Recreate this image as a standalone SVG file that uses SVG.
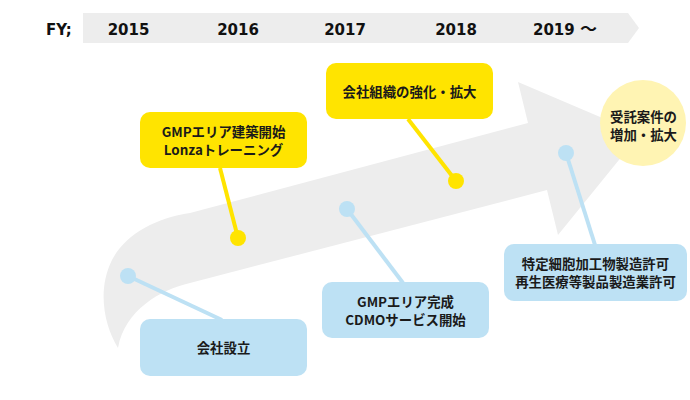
<svg xmlns="http://www.w3.org/2000/svg" width="690" height="400" viewBox="0 0 690 400">
<style>
.yr{font-family:"DejaVu Sans","Liberation Sans",sans-serif;font-weight:bold;font-size:15px;fill:#111;}
.tl{font-family:"Noto Sans CJK JP",sans-serif;font-weight:bold;}
.t{font-family:"Noto Sans CJK JP","DejaVu Sans",sans-serif;font-weight:bold;font-size:13.4px;fill:#1a1a1a;text-anchor:middle;}
.yb{fill:#FFE400;}
.bb{fill:#BDE1F4;}
.yl{stroke:#FFE400;stroke-width:4;fill:none;}
.bl{stroke:#BDE1F4;stroke-width:4;fill:none;}
</style>
<rect width="690" height="400" fill="#fff"/>
<g id="timeline">
<path d="M83 13 L628 13 L639 28 L628 43 L83 43 Z" fill="#EDEDED"/>
<text class="yr" x="46" y="35">FY;</text>
<text class="yr" x="128.5" y="35" text-anchor="middle">2015</text>
<text class="yr" x="238" y="35" text-anchor="middle">2016</text>
<text class="yr" x="345" y="35" text-anchor="middle">2017</text>
<text class="yr" x="456" y="35" text-anchor="middle">2018</text>
<text class="yr" x="533" y="35">2019 <tspan class="tl" font-size="17px">～</tspan></text>
</g>
<g id="arrow">
<path d="M118 348 C104 325 97 290 112 260 C125 235 155 218 190 213 L528 123 L518 82 L640 134 L558 235 L547 190 L190 283 C160 290 125 310 118 348 Z" fill="#EDEDED"/>
</g>
<g id="connectors">
<line class="yl" x1="220" y1="168" x2="238" y2="238"/>
<circle class="yb" cx="238" cy="238" r="8"/>
<line class="yl" x1="408" y1="119" x2="456" y2="181"/>
<circle class="yb" cx="456" cy="181" r="8"/>
<line class="bl" x1="128" y1="276" x2="222" y2="320"/>
<circle class="bb" cx="128" cy="276" r="8"/>
<line class="bl" x1="347" y1="209" x2="403" y2="283"/>
<circle class="bb" cx="347" cy="209" r="8"/>
<line class="bl" x1="566" y1="153" x2="595" y2="245"/>
<circle class="bb" cx="566" cy="153" r="8"/>
</g>
<g id="node-gmp-build">
<rect class="yb" x="140" y="112" width="167" height="56" rx="10"/>
<text class="t" x="223.5" y="136.5">GMPエリア建築開始</text>
<text class="t" x="223.5" y="155">Lonzaトレーニング</text>
</g>
<g id="node-org">
<rect class="yb" x="326" y="63" width="167" height="56" rx="10"/>
<text class="t" x="409.5" y="97">会社組織の強化・拡大</text>
</g>
<g id="node-founded">
<rect class="bb" x="140" y="319" width="167" height="57" rx="10"/>
<text class="t" x="223.5" y="353">会社設立</text>
</g>
<g id="node-gmp-done">
<rect class="bb" x="322" y="282" width="167" height="56" rx="10"/>
<text class="t" x="405.5" y="306.5">GMPエリア完成</text>
<text class="t" x="405.5" y="325">CDMOサービス開始</text>
</g>
<g id="node-license">
<rect class="bb" x="504" y="244" width="183" height="57" rx="10"/>
<text class="t" x="595.5" y="268.5">特定細胞加工物製造許可</text>
<text class="t" x="595.5" y="287">再生医療等製品製造業許可</text>
</g>
<g id="node-goal">
<circle cx="643" cy="123" r="43" fill="#FFF4B3"/>
<text class="t" x="643.5" y="121.5">受託案件の</text>
<text class="t" x="643.5" y="140">増加・拡大</text>
</g>
</svg>
